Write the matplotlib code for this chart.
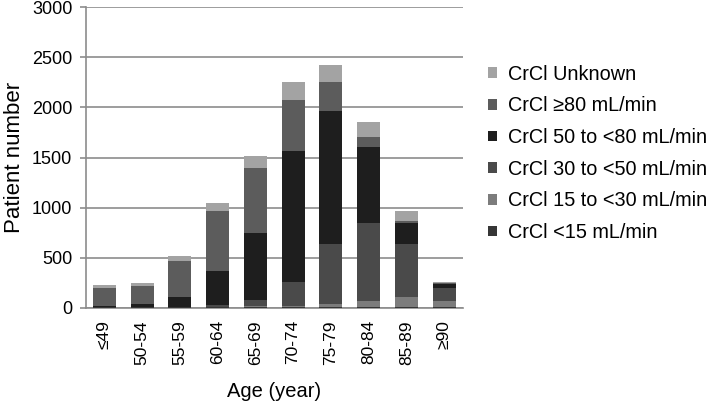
import matplotlib
matplotlib.use("Agg")
import matplotlib.pyplot as plt
import numpy as np

plt.rcParams['font.family'] = ['Liberation Sans', 'DejaVu Sans']

categories = ['≤49', '50-54', '55-59', '60-64', '65-69', '70-74', '75-79', '80-84', '85-89', '≥90']
series_names = ['CrCl <15 mL/min', 'CrCl 15 to <30 mL/min', 'CrCl 30 to <50 mL/min',
                'CrCl 50 to <80 mL/min', 'CrCl ≥80 mL/min', 'CrCl Unknown']
crcl_lt15 = [3, 3, 3, 5, 7, 5, 7, 7, 7, 7]
crcl_15_30 = [2, 2, 3, 5, 10, 15, 30, 60, 100, 60]
crcl_30_50 = [5, 5, 5, 20, 60, 234, 597, 780, 527, 130]
crcl_50_80 = [5, 26, 94, 337, 673, 1306, 1326, 760, 210, 35]
crcl_ge80 = [185, 179, 360, 597, 644, 517, 290, 100, 23, 12]
crcl_unknown = [27, 27, 56, 86, 123, 173, 173, 143, 100, 16]
colors = ['#363636', '#7c7c7c', '#4a4a4a', '#1e1e1e', '#5c5c5c', '#a3a3a3']

series = [crcl_lt15, crcl_15_30, crcl_30_50, crcl_50_80, crcl_ge80, crcl_unknown]

W, H = 709, 403
fig = plt.figure(figsize=(W / 100, H / 100), dpi=100)
left, right, top, bot = 85.5, 463, 7.3, 307.7
ax = fig.add_axes([left / W, 1 - bot / H, (right - left) / W, (bot - top) / H])

x = np.arange(len(categories))
bottom = np.zeros(len(categories))
handles = []
for vals, name, c in zip(series, series_names, colors):
    h = ax.bar(x, vals, width=0.61, bottom=bottom, color=c, label=name, zorder=3)
    handles.append(h)
    bottom += np.array(vals)

ax.set_ylim(0, 3000)
ax.set_xlim(-0.5, len(categories) - 0.5)
ax.set_yticks(range(0, 3001, 500))
ax.yaxis.grid(True, color='#8c8c8c', linewidth=1.2, zorder=0)
ax.set_axisbelow(True)
for s in ['top', 'right']:
    ax.spines[s].set_visible(False)
for s in ['left', 'bottom']:
    ax.spines[s].set_color('#8c8c8c')
    ax.spines[s].set_linewidth(1.2)
ax.tick_params(axis='y', length=4.5, width=1.2, color='#8c8c8c', labelsize=13, pad=5)
ax.tick_params(axis='x', length=0, labelsize=12.5, pad=9)
ax.set_xticks(x)
ax.set_xticklabels(categories, rotation=90)
ax.set_ylabel('Patient number', fontsize=16)
ax.yaxis.set_label_coords((25 - left) / (right - left), 0.5)
ax.set_xlabel('Age (year)', fontsize=14.5, labelpad=12)

leg = ax.legend(handles[::-1], series_names[::-1], loc='upper left',
                bbox_to_anchor=(1.02, 0.869), frameon=False, fontsize=14.3,
                handlelength=0.45, handleheight=0.45, handletextpad=0.55,
                labelspacing=0.64)

fig.savefig('out.png', dpi=100)
